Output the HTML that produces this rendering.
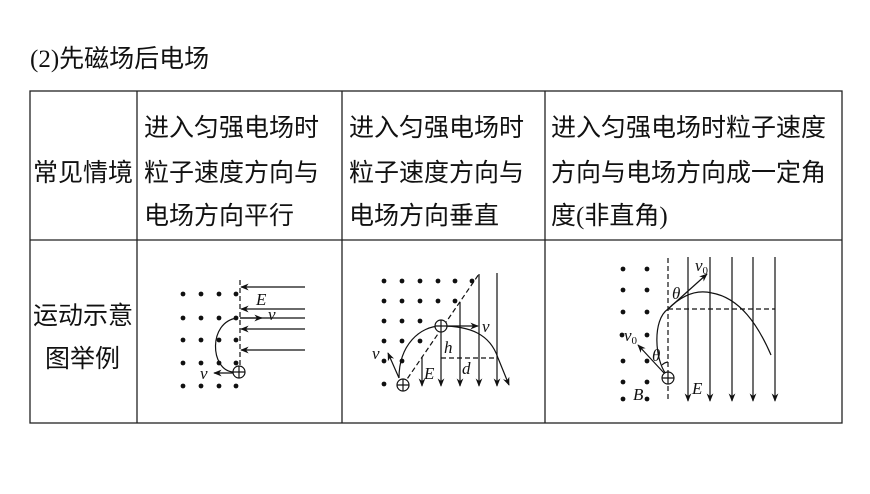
<!DOCTYPE html>
<html><head><meta charset="utf-8"><style>
body{margin:0;background:#fff;}
svg text{font-family:"Liberation Sans","Noto Sans CJK SC",sans-serif;}
.cj{font-size:25px;fill:#111;}
.it{font-family:"Liberation Serif",serif;font-style:italic;font-size:17px;fill:#111;}
</style></head><body>
<svg width="870" height="489" viewBox="0 0 870 489" xmlns="http://www.w3.org/2000/svg">
<defs>
<marker id="a" viewBox="0 0 10 10" refX="9" refY="5" markerWidth="7" markerHeight="7" orient="auto-start-reverse"><path d="M0,1 L10,5 L0,9 L3,5 z" fill="#111"/></marker>
</defs>
<text x="30" y="67" class="cj"><tspan font-family="Liberation Serif">(2)</tspan>先磁场后电场</text>
<g stroke="#222" stroke-width="1.3" fill="none">
<rect x="30" y="91" width="812" height="332"/>
<line x1="137" y1="91" x2="137" y2="423"/>
<line x1="342" y1="91" x2="342" y2="423"/>
<line x1="545" y1="91" x2="545" y2="423"/>
<line x1="30" y1="240" x2="842" y2="240"/>
</g>
<text x="33" y="181" class="cj">常见情境</text>
<text x="144" y="136" class="cj">进入匀强电场时</text>
<text x="144" y="181" class="cj">粒子速度方向与</text>
<text x="144" y="224" class="cj">电场方向平行</text>
<text x="349" y="136" class="cj">进入匀强电场时</text>
<text x="349" y="181" class="cj">粒子速度方向与</text>
<text x="349" y="224" class="cj">电场方向垂直</text>
<text x="551" y="136" class="cj">进入匀强电场时粒子速度</text>
<text x="551" y="181" class="cj">方向与电场方向成一定角</text>
<text x="551" y="224" class="cj">度<tspan font-family="Liberation Serif">(</tspan>非直角<tspan font-family="Liberation Serif">)</tspan></text>
<text x="33" y="324" class="cj">运动示意</text>
<text x="45" y="367" class="cj">图举例</text>

<!-- diagram 1 -->
<g fill="#111">
<g id="r1"><circle cx="183" cy="294" r="2.4"/><circle cx="201" cy="294" r="2.4"/><circle cx="219" cy="294" r="2.4"/><circle cx="236" cy="294" r="2.4"/></g>
<use href="#r1" y="24"/><use href="#r1" y="46"/><use href="#r1" y="69"/><use href="#r1" y="92"/>
</g>
<g stroke="#111" stroke-width="1.2" fill="none">
<line x1="240" y1="280" x2="240" y2="368" stroke-dasharray="5,3"/>
<line x1="305" y1="287" x2="241" y2="287" marker-end="url(#a)"/>
<line x1="305" y1="309" x2="241" y2="309" marker-end="url(#a)"/>
<line x1="305" y1="329" x2="241" y2="329" marker-end="url(#a)"/>
<line x1="305" y1="350" x2="241" y2="350" marker-end="url(#a)"/>
<line x1="240" y1="318" x2="305" y2="318"/>
<line x1="240" y1="318" x2="262" y2="318" marker-end="url(#a)"/>
<path d="M237,318 C208,322 210,370 233,372"/>
<line x1="233" y1="373" x2="214" y2="373" marker-end="url(#a)"/>
<circle cx="239" cy="372" r="6" fill="#fff"/>
<path d="M233,372 h12 M239,366 v12"/>
</g>
<text x="256" y="305" class="it" font-size="18">E</text>
<text x="268" y="320" class="it">v</text>
<text x="200" y="379" class="it">v</text>

<!-- diagram 2 -->
<g fill="#111">
<circle cx="384" cy="281" r="2.4"/><circle cx="402" cy="281" r="2.4"/><circle cx="420" cy="281" r="2.4"/><circle cx="438" cy="281" r="2.4"/><circle cx="455" cy="281" r="2.4"/><circle cx="472" cy="281" r="2.4"/>
<circle cx="384" cy="301" r="2.4"/><circle cx="402" cy="301" r="2.4"/><circle cx="420" cy="301" r="2.4"/><circle cx="438" cy="301" r="2.4"/><circle cx="455" cy="301" r="2.4"/>
<circle cx="384" cy="321" r="2.4"/><circle cx="402" cy="321" r="2.4"/><circle cx="420" cy="321" r="2.4"/>
<circle cx="384" cy="341" r="2.4"/><circle cx="402" cy="341" r="2.4"/><circle cx="420" cy="341" r="2.4"/>
<circle cx="384" cy="361" r="2.4"/><circle cx="402" cy="361" r="2.4"/>
<circle cx="384" cy="384" r="2.4"/>
</g>
<g stroke="#111" stroke-width="1.2" fill="none">
<line x1="403" y1="385" x2="479" y2="274" stroke-dasharray="5,3"/>
<line x1="441" y1="358" x2="497" y2="358" stroke-dasharray="5,3"/>
<line x1="422" y1="357" x2="422" y2="386" marker-end="url(#a)"/>
<line x1="441" y1="332" x2="441" y2="386" marker-end="url(#a)"/>
<line x1="460" y1="302" x2="460" y2="386" marker-end="url(#a)"/>
<line x1="479" y1="274" x2="479" y2="386" marker-end="url(#a)"/>
<line x1="497" y1="273" x2="497" y2="386" marker-end="url(#a)"/>
<path d="M399,378 C399,345 420,326 441,326 C470,326 490,334 498,358"/>
<line x1="498" y1="358" x2="509" y2="385" marker-end="url(#a)"/>
<line x1="441" y1="326" x2="478" y2="326" marker-end="url(#a)"/>
<line x1="399" y1="378" x2="388" y2="353" marker-end="url(#a)"/>
<circle cx="403" cy="385" r="6" fill="#fff"/><path d="M397,385 h12 M403,379 v12"/>
<circle cx="441" cy="326" r="6" fill="#fff"/><path d="M435,326 h12 M441,320 v12"/>
</g>
<text x="482" y="332" class="it">v</text>
<text x="372" y="359" class="it">v</text>
<text x="444" y="353" class="it">h</text>
<text x="424" y="379" class="it">E</text>
<text x="462" y="374" class="it">d</text>

<!-- diagram 3 -->
<g fill="#111">
<circle cx="623" cy="269" r="2.4"/><circle cx="647" cy="269" r="2.4"/>
<circle cx="623" cy="290" r="2.4"/><circle cx="647" cy="290" r="2.4"/>
<circle cx="623" cy="312" r="2.4"/><circle cx="647" cy="312" r="2.4"/>
<circle cx="622" cy="335" r="2.4"/><circle cx="647" cy="335" r="2.4"/>
<circle cx="623" cy="361" r="2.4"/><circle cx="647" cy="361" r="2.4"/>
<circle cx="623" cy="382" r="2.4"/><circle cx="647" cy="382" r="2.4"/>
<circle cx="623" cy="399" r="2.4"/><circle cx="647" cy="399" r="2.4"/>
</g>
<g stroke="#111" stroke-width="1.2" fill="none">
<line x1="668" y1="258" x2="668" y2="402" stroke-dasharray="5,3"/>
<line x1="668" y1="309" x2="775" y2="309" stroke-dasharray="5,3"/>
<line x1="688" y1="257" x2="688" y2="401" marker-end="url(#a)"/>
<line x1="710" y1="257" x2="710" y2="401" marker-end="url(#a)"/>
<line x1="732" y1="257" x2="732" y2="401" marker-end="url(#a)"/>
<line x1="753" y1="257" x2="753" y2="401" marker-end="url(#a)"/>
<line x1="775" y1="257" x2="775" y2="401" marker-end="url(#a)"/>
<path d="M666,374 C655,360 652,320 668,309 C685,292 700,290 712,293 C740,298 758,325 771,355"/>
<line x1="668" y1="309" x2="707" y2="274" marker-end="url(#a)"/>
<line x1="664" y1="373" x2="638" y2="345" marker-end="url(#a)"/>
<path d="M662,365 A10,10 0 0 1 668,362"/>
<circle cx="668" cy="378" r="6" fill="#fff"/><path d="M662,378 h12 M668,372 v12"/>
</g>
<text x="695" y="271" class="it">v<tspan font-size="11" dy="3" font-style="normal">0</tspan></text>
<text x="624" y="341" class="it">v<tspan font-size="11" dy="3" font-style="normal">0</tspan></text>
<text x="672" y="299" class="it">θ</text>
<text x="652" y="361" class="it">θ</text>
<text x="633" y="400" class="it" font-size="18">B</text>
<text x="692" y="394" class="it" font-size="18">E</text>
</svg>
</body></html>
